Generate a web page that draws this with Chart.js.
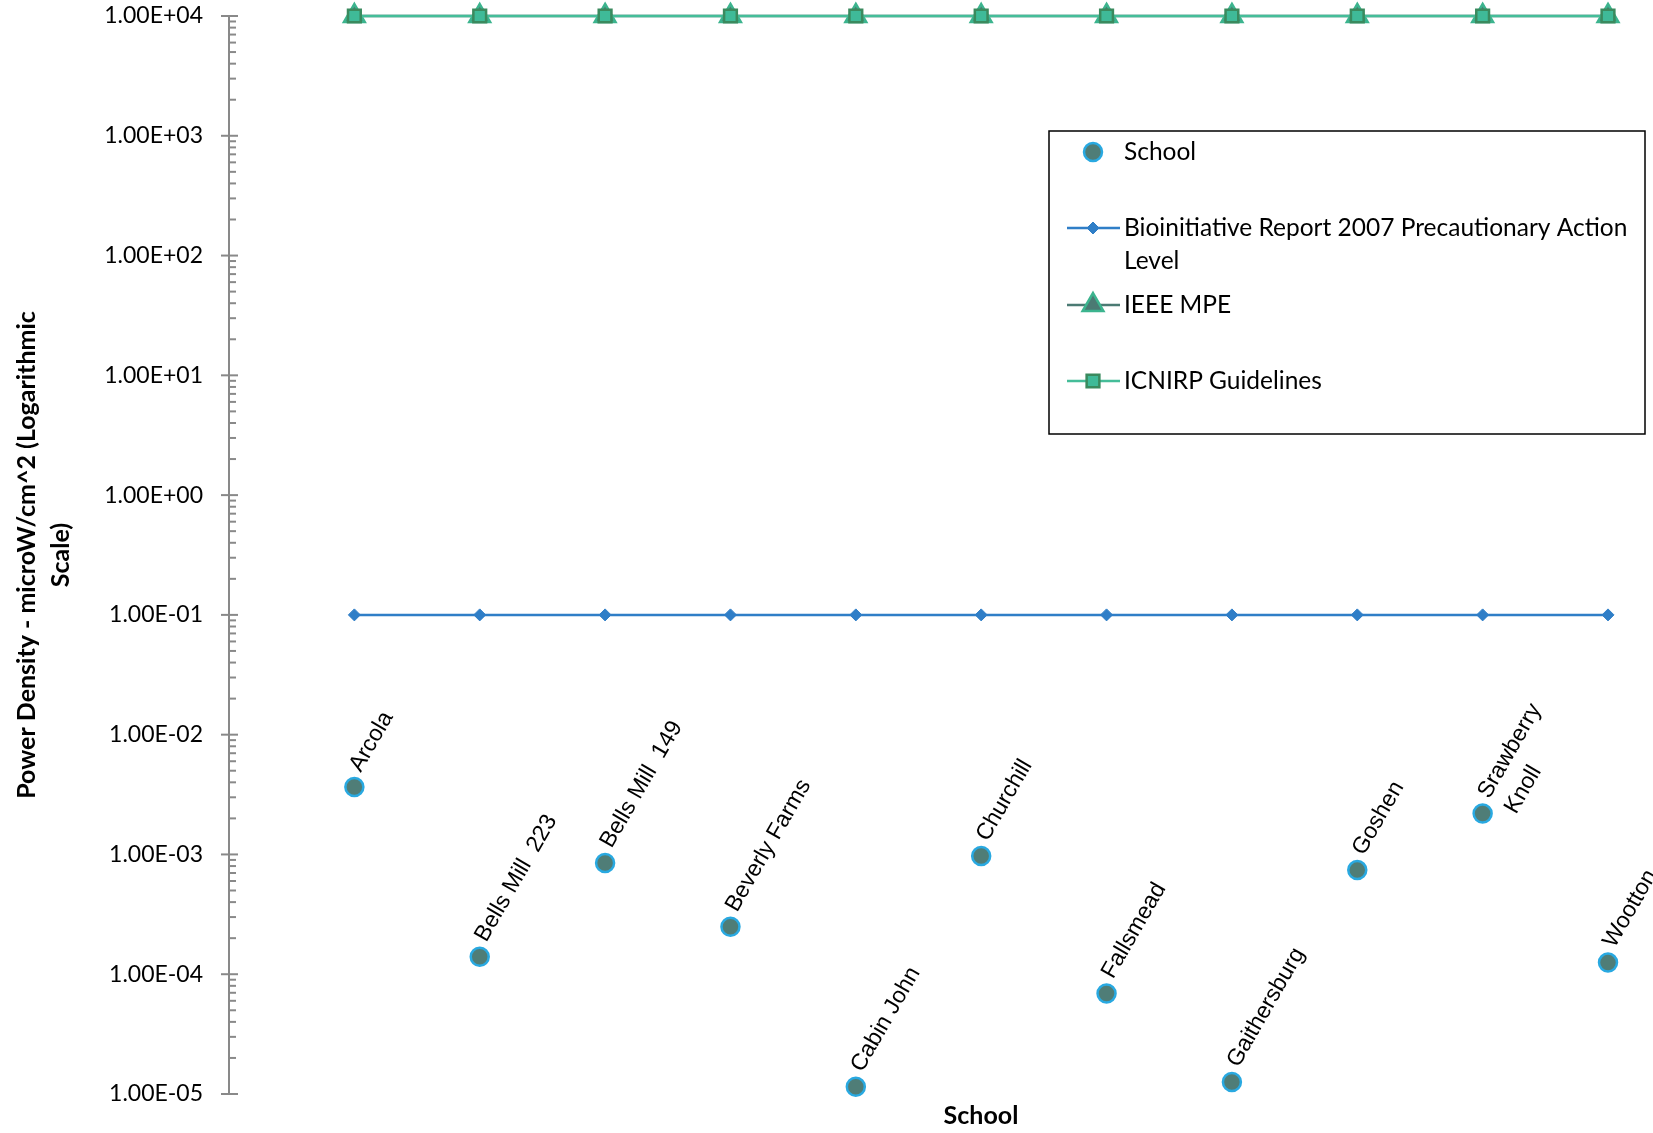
<!DOCTYPE html>
<html>
<head>
<meta charset="utf-8">
<title>Power Density by School</title>
<script src="https://cdn.jsdelivr.net/npm/chart.js@4.4.1/dist/chart.umd.min.js"></script>
<style>
  html, body { margin: 0; padding: 0; background: #fff; }
  #chartBox { width: 1653px; height: 1133px; }
</style>
</head>
<body>
<div id="chartBox"><canvas id="schoolChart" width="1653" height="1133"></canvas></div>
<script>
// values (microW/cm^2)
const schools = ['Arcola', 'Bells Mill  223', 'Bells Mill  149', 'Beverly Farms', 'Cabin John', 'Churchill',
  'Fallsmead', 'Gaithersburg', 'Goshen', ['Srawberry', 'Knoll'], 'Wootton'];
const schoolLevels = [3.66e-3, 1.40e-4, 8.5e-4, 2.49e-4, 1.15e-5, 9.7e-4, 6.9e-5, 1.26e-5, 7.4e-4, 2.2e-3, 1.25e-4];
const bioinitiativeLevel = [0.1, 0.1, 0.1, 0.1, 0.1, 0.1, 0.1, 0.1, 0.1, 0.1, 0.1];
const ieeeMpe = [10000, 10000, 10000, 10000, 10000, 10000, 10000, 10000, 10000, 10000, 10000];
const icnirpGuidelines = [10000, 10000, 10000, 10000, 10000, 10000, 10000, 10000, 10000, 10000, 10000];
const yTickLabels = ['1.00E-05', '1.00E-04', '1.00E-03', '1.00E-02', '1.00E-01',
  '1.00E+00', '1.00E+01', '1.00E+02', '1.00E+03', '1.00E+04'];
const seriesNames = [['School'], ['Bioinitiative Report 2007 Precautionary Action', 'Level'], ['IEEE MPE'], ['ICNIRP Guidelines']];
const yTitle = ['Power Density - microW/cm^2 (Logarithmic', 'Scale)'];
const xTitle = 'School';

const axisGrey = '#898989';
const calibriLike = 'Lato, "Open Sans", sans-serif';

function toPoints(values) {
  return values.map((v, i) => ({ x: i, y: v }));
}

function drawMarker(ctx, ds, x, y) {
  const r = ds.pointRadius;
  ctx.save();
  ctx.fillStyle = ds.pointBackgroundColor;
  ctx.strokeStyle = ds.pointBorderColor;
  ctx.lineWidth = ds.pointBorderWidth;
  ctx.beginPath();
  if (ds.pointStyle === 'circle') {
    ctx.arc(x, y, r, 0, Math.PI * 2);
  } else if (ds.pointStyle === 'rectRot') {
    ctx.moveTo(x, y - r); ctx.lineTo(x + r, y); ctx.lineTo(x, y + r); ctx.lineTo(x - r, y);
    ctx.closePath();
  } else if (ds.pointStyle === 'triangle') {
    ctx.moveTo(x, y - r);
    ctx.lineTo(x + Math.sin(2 * Math.PI / 3) * r, y - Math.cos(2 * Math.PI / 3) * r);
    ctx.lineTo(x + Math.sin(4 * Math.PI / 3) * r, y - Math.cos(4 * Math.PI / 3) * r);
    ctx.closePath();
  } else {
    const s = Math.SQRT1_2 * r;
    ctx.rect(x - s, y - s, 2 * s, 2 * s);
  }
  ctx.fill();
  ctx.stroke();
  ctx.restore();
}

// minor ticks sit inside the axis, major ticks cross it
const axisTicks = {
  id: 'axisTicks',
  afterDraw(chart) {
    const { ctx, chartArea, scales: { y } } = chart;
    const left = chartArea.left;
    ctx.save();
    ctx.strokeStyle = axisGrey;
    ctx.lineWidth = 2;
    for (let e = -5; e <= 4; e++) {
      const base = Math.pow(10, e);
      const py = y.getPixelForValue(base);
      ctx.beginPath(); ctx.moveTo(left - 8, py); ctx.lineTo(left + 9, py); ctx.stroke();
      if (e === 4) continue;
      for (let m = 2; m <= 9; m++) {
        const p = y.getPixelForValue(m * base);
        ctx.beginPath(); ctx.moveTo(left, p); ctx.lineTo(left + 7, p); ctx.stroke();
      }
    }
    ctx.restore();
  }
};

const schoolLabels = {
  id: 'schoolLabels',
  afterDatasetsDraw(chart) {
    const ctx = chart.ctx;
    const meta = chart.getDatasetMeta(0);
    ctx.save();
    ctx.font = '23px "Liberation Sans", Arial, sans-serif';
    ctx.fillStyle = '#000';
    ctx.textAlign = 'left';
    ctx.textBaseline = 'middle';
    meta.data.forEach((pt, i) => {
      const lines = [].concat(schools[i]);
      ctx.save();
      ctx.translate(pt.x + 1, pt.y - 17);
      ctx.rotate(-Math.PI / 3);
      lines.forEach((t, k) => ctx.fillText(t, 0, k * 31));
      ctx.restore();
    });
    ctx.restore();
  }
};

const boxLegend = {
  id: 'boxLegend',
  afterDraw(chart) {
    const ctx = chart.ctx;
    const box = { left: 1049, top: 131, right: 1645, bottom: 434 };
    const rows = [152, 228, 305, 381];
    ctx.save();
    ctx.strokeStyle = '#000';
    ctx.lineWidth = 1.5;
    ctx.strokeRect(box.left, box.top, box.right - box.left, box.bottom - box.top);
    ctx.font = '24.5px ' + calibriLike;
    ctx.textAlign = 'left';
    ctx.textBaseline = 'middle';
    chart.data.datasets.forEach((ds, i) => {
      const y = rows[i];
      if (ds.showLine !== false) {
        ctx.strokeStyle = ds.borderColor;
        ctx.lineWidth = ds.borderWidth;
        ctx.beginPath(); ctx.moveTo(1067, y); ctx.lineTo(1120, y); ctx.stroke();
      }
      drawMarker(ctx, ds, 1093, y);
      ctx.fillStyle = '#000';
      seriesNames[i].forEach((t, k) => ctx.fillText(t, 1124, y + k * 33));
    });
    ctx.restore();
  }
};

const axisTitles = {
  id: 'axisTitles',
  afterDraw(chart) {
    const { ctx, chartArea } = chart;
    ctx.save();
    ctx.fillStyle = '#000';
    ctx.font = 'bold 25px ' + calibriLike;
    ctx.textAlign = 'center';
    ctx.textBaseline = 'middle';
    ctx.fillText(xTitle, 981, 1116);
    ctx.translate(27, (chartArea.top + chartArea.bottom) / 2);
    ctx.rotate(-Math.PI / 2);
    yTitle.forEach((t, k) => ctx.fillText(t, 0, k * 34));
    ctx.restore();
  }
};

new Chart(document.getElementById('schoolChart'), {
  type: 'line',
  data: {
    datasets: [
      {
        label: 'School',
        data: toPoints(schoolLevels),
        showLine: false,
        pointStyle: 'circle',
        pointRadius: 9,
        pointBackgroundColor: '#4f7d77',
        pointBorderColor: '#29a9e1',
        pointBorderWidth: 2.5,
        order: 0,
        clip: false
      },
      {
        label: 'Bioinitiative Report 2007 Precautionary Action Level',
        data: toPoints(bioinitiativeLevel),
        borderColor: '#2f7ec7',
        borderWidth: 2.5,
        pointStyle: 'rectRot',
        pointRadius: 6,
        pointBackgroundColor: '#2f7ec7',
        pointBorderColor: '#2f7ec7',
        pointBorderWidth: 1,
        order: 1,
        clip: false
      },
      {
        label: 'IEEE MPE',
        data: toPoints(ieeeMpe),
        borderColor: '#4b7a73',
        borderWidth: 2.5,
        pointStyle: 'triangle',
        pointRadius: 12,
        pointBackgroundColor: '#4b7a73',
        pointBorderColor: '#3cb48e',
        pointBorderWidth: 2.5,
        order: 3,
        clip: false
      },
      {
        label: 'ICNIRP Guidelines',
        data: toPoints(icnirpGuidelines),
        borderColor: '#45bd99',
        borderWidth: 2.5,
        pointStyle: 'rect',
        pointRadius: 9,
        pointBackgroundColor: '#3fba98',
        pointBorderColor: '#3a8a5e',
        pointBorderWidth: 2.5,
        order: 2,
        clip: false
      }
    ]
  },
  options: {
    responsive: false,
    animation: false,
    devicePixelRatio: 1,
    layout: { padding: { top: 16, right: 45, bottom: 39, left: 0 } },
    plugins: {
      legend: { display: false },
      tooltip: { enabled: false }
    },
    scales: {
      x: {
        type: 'linear',
        min: -1,
        max: 10,
        display: false
      },
      y: {
        type: 'logarithmic',
        min: 1e-5,
        max: 1e4,
        afterFit(scale) {
          scale.width = 229;
          scale.paddingTop = 0;
          scale.paddingBottom = 0;
        },
        border: { display: true, color: axisGrey, width: 2 },
        grid: { display: false, drawTicks: false },
        ticks: {
          autoSkip: false,
          padding: 26,
          color: '#000',
          font: { family: calibriLike, size: 23 },
          callback(value) {
            const e = Math.log10(value);
            if (Math.abs(e - Math.round(e)) > 1e-9) return '';
            return yTickLabels[Math.round(e) + 5];
          }
        }
      }
    }
  },
  plugins: [axisTicks, schoolLabels, boxLegend, axisTitles]
});
</script>
</body>
</html>
